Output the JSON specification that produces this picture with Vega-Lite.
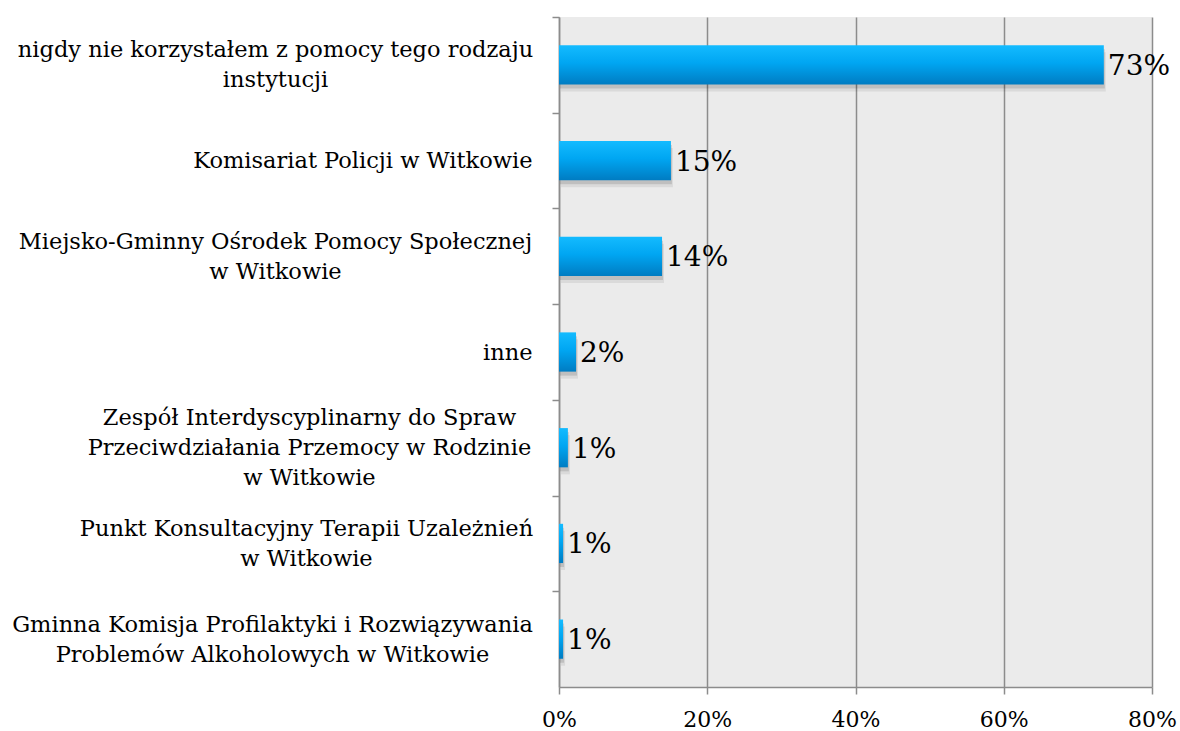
{
  "$schema": "https://vega.github.io/schema/vega-lite/v6.json",
  "width": 593,
  "height": 670,
  "autosize": "none",
  "padding": {"left": 559, "top": 17, "right": 28, "bottom": 44},
  "background": "white",
  "config": {
    "view": {"fill": "#ebebeb", "stroke": null},
    "font": "DejaVu Serif"
  },
  "data": {
    "values": [
      {"cat": "nigdy nie korzystałem z pomocy tego rodzaju|instytucji", "value": 73.5, "label": "73%"},
      {"cat": "Komisariat Policji w Witkowie", "value": 15.1, "label": "15%"},
      {"cat": "Miejsko-Gminny Ośrodek Pomocy Społecznej|w Witkowie", "value": 13.9, "label": "14%"},
      {"cat": "inne", "value": 2.3, "label": "2%"},
      {"cat": "Zespół Interdyscyplinarny do Spraw|Przeciwdziałania Przemocy w Rodzinie|w Witkowie", "value": 1.2, "label": "1%"},
      {"cat": "Punkt Konsultacyjny Terapii Uzależnień|w Witkowie", "value": 0.55, "label": "1%"},
      {"cat": "Gminna Komisja Profilaktyki i Rozwiązywania|Problemów Alkoholowych w Witkowie", "value": 0.55, "label": "1%"}
    ]
  },
  "encoding": {
    "y": {
      "field": "cat",
      "type": "nominal",
      "sort": null,
      "scale": {"paddingInner": 0.59, "paddingOuter": 0.295},
      "axis": {
        "title": null,
        "labelExpr": "split(datum.label, '|')",
        "labelFontSize": 22.5,
        "labelLineHeight": 30,
        "labelColor": "#000000",
        "labelAlign": {"condition": {"test": "indexof(datum.value, '|') >= 0", "value": "center"}, "value": "right"},
        "labelPadding": {"condition": [
          {"test": "indexof(datum.value, 'Zespół') == 0", "value": 243},
          {"test": "indexof(datum.value, 'Punkt') == 0", "value": 246},
          {"test": "indexof(datum.value, 'Gminna') == 0", "value": 280},
          {"test": "indexof(datum.value, '|') >= 0", "value": 277}
        ], "value": 20},
        "labelOffset": {"condition": [
          {"test": "length(split(datum.value, '|')) == 3", "value": 17.86},
          {"test": "length(split(datum.value, '|')) == 2", "value": 32.86}
        ], "value": 47.86},
        "tickOffset": -47.86,
        "labelLimit": 0,
        "domainColor": "#8c8c8c",
        "domainWidth": 1.5,
        "tickColor": "#8c8c8c",
        "tickWidth": 1.5,
        "tickSize": 7,
        "grid": false
      }
    }
  },
  "layer": [
    {
      "mark": {"type": "bar", "color": "#000000", "opacity": 0.07, "yOffset": 7, "xOffset": 2},
      "encoding": {"x": {"field": "value", "type": "quantitative"}}
    },
    {
      "mark": {"type": "bar", "color": "#000000", "opacity": 0.12, "yOffset": 4, "xOffset": 1},
      "encoding": {"x": {"field": "value", "type": "quantitative"}}
    },
    {
      "mark": {
        "type": "bar",
        "color": {
          "gradient": "linear",
          "x1": 0, "y1": 0, "x2": 0, "y2": 1,
          "stops": [
            {"offset": 0, "color": "#14bbff"},
            {"offset": 0.45, "color": "#00a6f2"},
            {"offset": 1, "color": "#007cc2"}
          ]
        }
      },
      "encoding": {
        "x": {
          "field": "value",
          "type": "quantitative",
          "scale": {"domain": [0, 80], "nice": false},
          "axis": {
            "title": null,
            "values": [0, 20, 40, 60, 80],
            "labelExpr": "datum.value + '%'",
            "labelFontSize": 22,
            "labelColor": "#000000",
            "labelPadding": 15,
            "labelFlush": false,
            "grid": true,
            "gridColor": "#8c8c8c",
            "gridWidth": 1.5,
            "domainColor": "#8c8c8c",
            "domainWidth": 1.5,
            "tickColor": "#8c8c8c",
            "tickWidth": 1.5,
            "tickSize": 7
          }
        }
      }
    },
    {
      "mark": {"type": "text", "align": "left", "baseline": "middle", "dx": 4, "dy": 2, "fontSize": 28, "color": "#000000"},
      "encoding": {
        "x": {"field": "value", "type": "quantitative"},
        "text": {"field": "label"}
      }
    }
  ]
}
